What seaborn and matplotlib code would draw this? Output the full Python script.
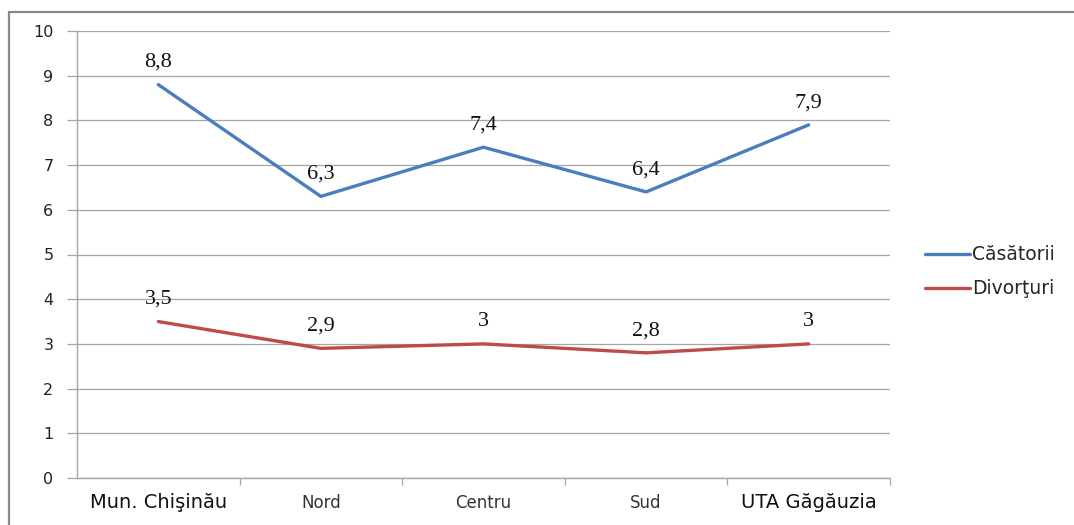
import matplotlib
matplotlib.use("Agg")
import matplotlib.pyplot as plt
import seaborn as sns
import pandas as pd
from matplotlib.lines import Line2D

categories = ["Mun. Chişinău", "Nord", "Centru", "Sud", "UTA Găgăuzia"]
casatorii = [8.8, 6.3, 7.4, 6.4, 7.9]
divorturi = [3.5, 2.9, 3.0, 2.8, 3.0]
series_names = ["Căsătorii", "Divorţuri"]
label_c = ["8,8", "6,3", "7,4", "6,4", "7,9"]
label_d = ["3,5", "2,9", "3", "2,8", "3"]
yticks = [0, 1, 2, 3, 4, 5, 6, 7, 8, 9, 10]

sns.set_theme(style="white")
plt.rcParams['font.family'] = ['DejaVu Sans']

df = pd.DataFrame({
    "x": list(range(len(categories))) * 2,
    "v": casatorii + divorturi,
    "s": [series_names[0]] * 5 + [series_names[1]] * 5,
})

fig = plt.figure(figsize=(10.74, 5.25), dpi=100)
ax = fig.add_axes([77/1074, 1-478/525, (890-77)/1074, (478-31)/525])

palette = {series_names[0]: "#4A7EBB", series_names[1]: "#BE4B48"}
sns.lineplot(data=df, x="x", y="v", hue="s", palette=palette, linewidth=2.4, ax=ax, legend=False)

ax.set_xlim(-0.5, 4.5)
ax.set_ylim(0, 10)
ax.set_yticks(yticks)
ax.set_yticklabels([str(t) for t in yticks], fontsize=11.5, color="#222222")
ax.set_xticks(range(len(categories)))
ax.set_xticklabels([])
ax.set_xlabel("")
ax.set_ylabel("")
for i, c in enumerate(categories):
    big = i in (0, 4)
    ax.text(i, -0.55, c, ha="center", va="center",
            fontsize=14 if big else 12,
            color="#111111" if big else "#333333",
            transform=ax.transData, clip_on=False)

ax.grid(axis="y", color="#A6A6A6", linewidth=0.9)
ax.set_axisbelow(True)
for side in ["top", "right"]:
    ax.spines[side].set_visible(False)
for side in ["left", "bottom"]:
    ax.spines[side].set_color("#A6A6A6")
    ax.spines[side].set_linewidth(1.0)

ax.tick_params(axis="y", which="major", left=True, length=7, color="#A6A6A6", width=0.9, pad=10)
ax.tick_params(axis="x", which="major", bottom=False)
ax.set_xticks([0.5, 1.5, 2.5, 3.5, 4.5], minor=True)
ax.tick_params(axis="x", which="minor", bottom=True, length=5, color="#A6A6A6", width=0.9)

for vals, labs in ((casatorii, label_c), (divorturi, label_d)):
    for i, (v, l) in enumerate(zip(vals, labs)):
        ax.annotate(l, (i, v), xytext=(0, 16), textcoords="offset points", ha="center", va="center",
                    fontsize=16, family=["Liberation Serif"], color="#111111")

handles = [Line2D([0], [0], color=palette[s], lw=2.4) for s in series_names]
fig.legend(handles, series_names, loc="center left", bbox_to_anchor=(917/1074, 1-272/525),
           frameon=False, fontsize=13.5, handlelength=2.4, handletextpad=0.15, labelspacing=0.8,
           borderaxespad=0)

# outer frame (top and left)
fig.add_artist(Line2D([9/1074, 1], [1-12/525, 1-12/525], color="#888888", lw=1.6, transform=fig.transFigure))
fig.add_artist(Line2D([9/1074, 9/1074], [0, 1-12/525], color="#888888", lw=1.6, transform=fig.transFigure))

fig.savefig("out.png", dpi=100, facecolor="white")
